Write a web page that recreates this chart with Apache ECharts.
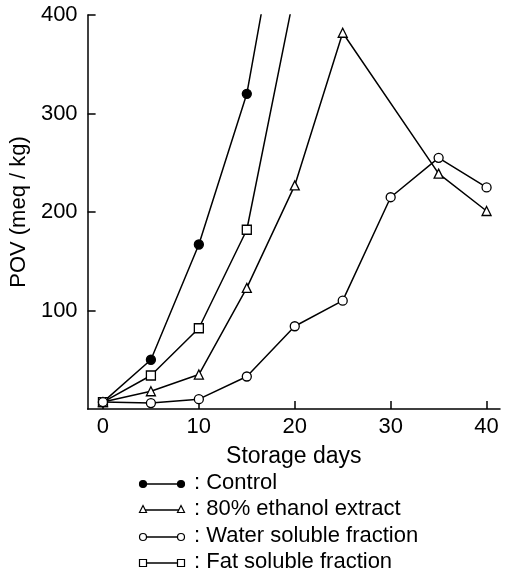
<!DOCTYPE html>
<html>
<head>
<meta charset="utf-8">
<script src="https://cdn.jsdelivr.net/npm/echarts@6/dist/echarts.min.js"></script>
<style>
html,body{margin:0;padding:0;background:#fff;}
#chart{width:507px;height:578px;}
</style>
</head>
<body>
<div id="chart"></div>
<script>
// ---- data ----
var days = [0, 5, 10, 15, 20, 25, 30, 35, 40];
var controlValues = [7, 50, 167, 320, 590, null, null, null, null];
var ethanolValues = [7, 18, 35, 123, 227, 382, null, 239, 201];
var waterValues   = [7, 6, 10, 33, 84, 110, 215, 255, 225];
var fatValues     = [7, 34, 82, 182, 424, null, null, null, null];
var xTicks = [0, 10, 20, 30, 40];
var yTicks = [100, 200, 300, 400];
var seriesNames = ['Control', '80% ethanol extract', 'Water soluble fraction', 'Fat soluble fraction'];
var seriesSymbols = ['circle', 'triangle', 'circle', 'rect'];
var seriesFilled = [true, false, false, false];
var seriesZ = [3, 4, 6, 5];

var FONT = 'Liberation Sans';
var valueSets = [controlValues, ethanolValues, waterValues, fatValues];

function pairs(vals) {
  var out = [];
  for (var i = 0; i < days.length; i++) {
    if (vals[i] !== null) out.push([days[i], vals[i]]);
  }
  return out;
}

var series = valueSets.map(function (vals, i) {
  return {
    name: seriesNames[i],
    type: 'line',
    data: pairs(vals),
    clip: true,
    symbol: seriesSymbols[i],
    symbolSize: 9,
    showAllSymbol: true,
    lineStyle: {color: '#000', width: 1.5},
    itemStyle: {color: seriesFilled[i] ? '#000' : '#fff', borderColor: '#000', borderWidth: 1.3},
    z: seriesZ[i]
  };
});

// legend drawn with graphic elements
var legendGraphics = [];
var rowY = [484, 510, 537, 563];
seriesNames.forEach(function (name, i) {
  var y = rowY[i];
  var x1 = 143, x2 = 181;
  legendGraphics.push({type: 'line', shape: {x1: x1, y1: y, x2: x2, y2: y}, style: {stroke: '#000', lineWidth: 1.5}});
  [x1, x2].forEach(function (x) {
    var s = 7;
    var sym = seriesSymbols[i];
    var st = {fill: seriesFilled[i] ? '#000' : '#fff', stroke: '#000', lineWidth: 1.2};
    if (sym === 'circle') {
      legendGraphics.push({type: 'circle', shape: {cx: x, cy: y, r: s / 2}, style: st, z: 10});
    } else if (sym === 'rect') {
      legendGraphics.push({type: 'rect', shape: {x: x - s / 2, y: y - s / 2, width: s, height: s}, style: st, z: 10});
    } else {
      legendGraphics.push({type: 'polygon', shape: {points: [[x, y - s / 2 - 1], [x + s / 2, y + s / 2 - 1], [x - s / 2, y + s / 2 - 1]]}, style: st, z: 10});
    }
  });
  legendGraphics.push({
    type: 'text', left: 194, top: y - 12,
    style: {text: ': ' + name, fill: '#000', font: '22px "' + FONT + '"', textVerticalAlign: 'top'}
  });
});

var chart = echarts.init(document.getElementById('chart'), null, {renderer: 'canvas'});
chart.setOption({
  animation: false,
  backgroundColor: '#fff',
  textStyle: {fontFamily: FONT, color: '#000'},
  grid: {left: 82, top: 15, right: 7, bottom: 169, containLabel: false},
  xAxis: {
    type: 'value',
    min: -1.6,
    max: 41.4,
    name: 'Storage days',
    nameLocation: 'middle',
    nameGap: 36,
    nameTextStyle: {fontSize: 23, color: '#000', fontFamily: FONT},
    axisLine: {show: true, onZero: false, lineStyle: {color: '#000', width: 1.5}},
    axisTick: {show: true, inside: true, length: 8, lineStyle: {color: '#000', width: 1.5}, customValues: xTicks},
    axisLabel: {show: true, fontSize: 22, color: '#000', margin: 7, fontFamily: FONT, customValues: xTicks},
    splitLine: {show: false}
  },
  yAxis: {
    type: 'value',
    min: 0,
    max: 400,
    name: 'POV (meq / kg)',
    nameLocation: 'middle',
    nameGap: 42,
    nameRotate: 90,
    nameTextStyle: {fontSize: 22, color: '#000', fontFamily: FONT},
    axisLine: {show: true, onZero: false, lineStyle: {color: '#000', width: 1.5}},
    axisTick: {show: true, inside: true, length: 8, lineStyle: {color: '#000', width: 1.5}, customValues: yTicks},
    axisLabel: {show: true, fontSize: 22, color: '#000', margin: 10, fontFamily: FONT, customValues: yTicks},
    splitLine: {show: false}
  },
  series: series,
  graphic: legendGraphics
});
</script>
</body>
</html>
